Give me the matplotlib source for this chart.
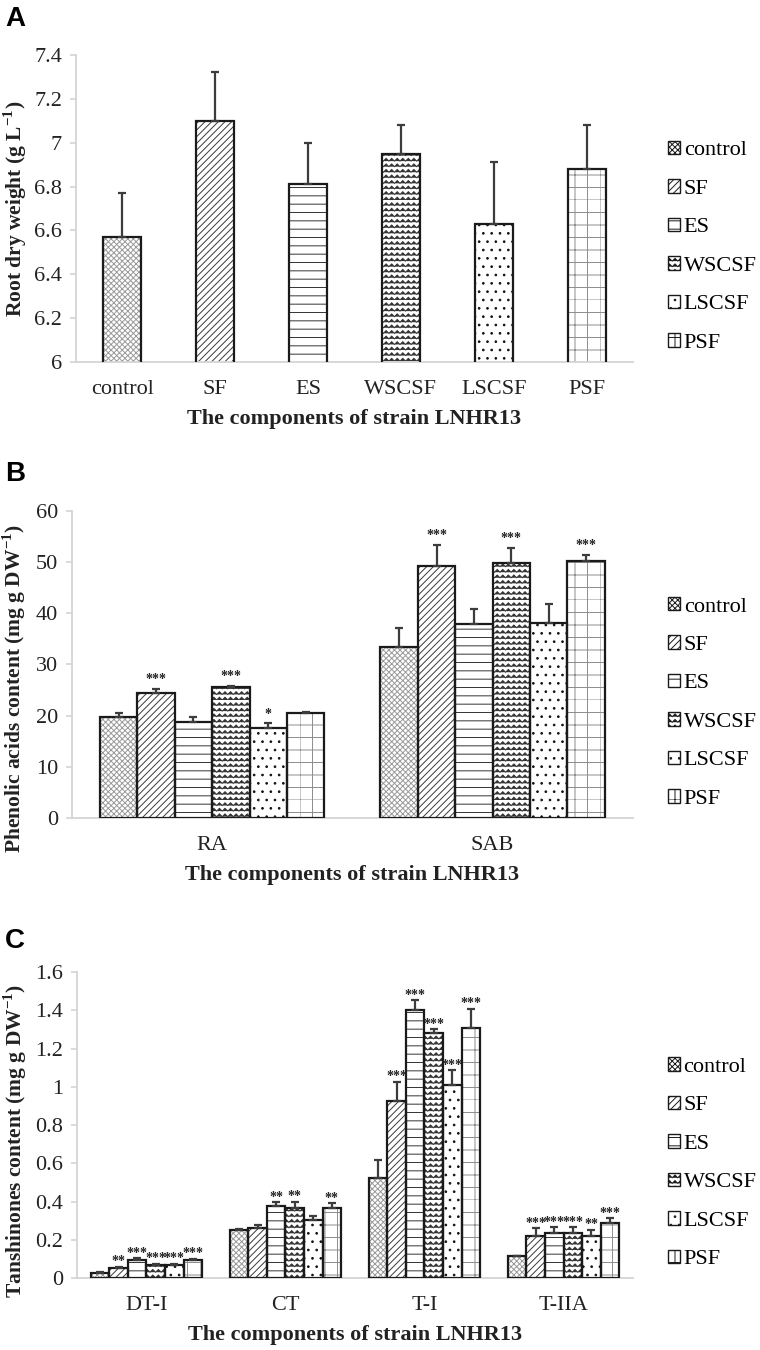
import warnings
import numpy as np
import matplotlib
matplotlib.use("Agg")
import matplotlib.pyplot as plt
from matplotlib import hatch as mhatch
from matplotlib.patches import Patch
from matplotlib.path import Path

warnings.filterwarnings("ignore")

# ===========================
# DATA
# ===========================
treatments = ["control", "SF", "ES", "WSCSF", "LSCSF", "PSF"]

# A - root dry weight (g L-1)
root_weight = [6.57, 7.10, 6.81, 6.95, 6.63, 6.88]
root_err = [0.20, 0.22, 0.19, 0.13, 0.28, 0.20]

# B - phenolic acids (mg g DW-1)
phenolic_groups = ["RA", "SAB"]
ra_content = [19.8, 24.4, 18.7, 25.6, 17.5, 20.6]
ra_err = [0.7, 0.8, 1.1, 0.2, 1.0, 0.1]
ra_sig = ["", "***", "", "***", "*", ""]
sab_content = [33.5, 49.3, 37.9, 49.9, 38.2, 50.2]
sab_err = [3.6, 4.0, 3.0, 2.9, 3.6, 1.2]
sab_sig = ["", "***", "", "***", "", "***"]

# C - tanshinones (mg g DW-1)
tanshinone_groups = ["DT-I", "CT", "T-I", "T-IIA"]
dti_content = [0.025, 0.052, 0.096, 0.070, 0.070, 0.096]
dti_err = [0.004, 0.006, 0.008, 0.006, 0.006, 0.006]
dti_sig = ["", "**", "***", "***", "***", "***"]
ct_content = [0.252, 0.264, 0.377, 0.365, 0.304, 0.365]
ct_err = [0.006, 0.015, 0.018, 0.035, 0.021, 0.025]
ct_sig = ["", "", "**", "**", "", "**"]
ti_content = [0.522, 0.927, 1.400, 1.282, 1.009, 1.308]
ti_err = [0.095, 0.100, 0.052, 0.018, 0.078, 0.100]
ti_sig = ["", "***", "***", "***", "***", "***"]
tiia_content = [0.113, 0.221, 0.238, 0.238, 0.221, 0.287]
tiia_err = [0.004, 0.039, 0.028, 0.028, 0.031, 0.026]
tiia_sig = ["", "***", "***", "***", "**", "***"]


# ===========================
# EXTRA HATCHES (Excel "zig zag" and wide grid patterns)
# ===========================
class ZigZagHatch(mhatch.HatchPatternBase):
    def __init__(self, hatch, density):
        self.num_lines = int(hatch.count("z") * density)
        self.num_teeth = self.num_lines
        self.num_vertices = self.num_lines * (2 * self.num_teeth + 1)

    def set_vertices_and_codes(self, vertices, codes):
        k = 2 * self.num_teeth + 1
        xs = np.linspace(0, 1, k)
        amp = 0.5 / self.num_lines
        offs = np.tile([0.0, amp], self.num_teeth + 1)[:k]
        for i in range(self.num_lines):
            y0 = i / self.num_lines
            vertices[i * k:(i + 1) * k, 0] = xs
            vertices[i * k:(i + 1) * k, 1] = y0 + offs
            codes[i * k] = Path.MOVETO
            codes[i * k + 1:(i + 1) * k] = Path.LINETO


class GridHatch(mhatch.HatchPatternBase):
    def __init__(self, hatch, density):
        self.num_lines = int(hatch.count("g") * density * 4 / 3)
        self.num_vertices = self.num_lines * 4

    def set_vertices_and_codes(self, vertices, codes):
        steps = np.linspace(0, 1, self.num_lines, endpoint=False)
        n = self.num_lines
        vertices[0:2 * n:2, 0] = 0.0
        vertices[1:2 * n:2, 0] = 1.0
        vertices[0:2 * n:2, 1] = steps
        vertices[1:2 * n:2, 1] = steps
        vertices[2 * n::2, 0] = steps
        vertices[2 * n + 1::2, 0] = steps
        vertices[2 * n::2, 1] = 0.0
        vertices[2 * n + 1::2, 1] = 1.0
        codes[0::2] = Path.MOVETO
        codes[1::2] = Path.LINETO


mhatch._hatch_types.append(ZigZagHatch)
mhatch._hatch_types.append(GridHatch)

plt.rcParams["font.family"] = ["Liberation Serif", "DejaVu Serif"]
plt.rcParams["mathtext.fontset"] = "custom"
plt.rcParams["mathtext.rm"] = "Liberation Serif"
plt.rcParams["mathtext.bf"] = "Liberation Serif:bold"
plt.rcParams["hatch.linewidth"] = 0.7

# hatch pattern and hatch colour per treatment
bar_styles = [("xxxxxx", "#9a9a9a"), ("/////", "#3a3a3a"), ("--", "#333333"),
              ("zzz", "#333333"), ("..", "#111111"), ("g", "#8c8c8c")]
AXIS_GRAY = "#d4d4d4"


def draw_bars(ax, x, heights, errs, width):
    for i, (hatch, hcol) in enumerate(bar_styles):
        ax.bar(x[i], heights[i], width, color="white", edgecolor=hcol,
               hatch=hatch, linewidth=0, zorder=2)
        ax.bar(x[i], heights[i], width, fill=False, edgecolor="#1a1a1a",
               linewidth=1.6, zorder=3)
    ax.errorbar(x, heights, yerr=[np.zeros(len(errs)), errs], fmt="none",
                ecolor="#3c3c3c", elinewidth=1.6, capsize=3.2, capthick=1.6,
                zorder=4)


def add_stars(ax, x, heights, errs, sigs, offset):
    for xi, h, e, s in zip(x, heights, errs, sigs):
        if s:
            ax.annotate(s, (xi, h + e), xytext=(0, offset), textcoords="offset points",
                        ha="center", va="bottom", fontsize=10, fontweight="bold",
                        color="#222222", zorder=5)


def style_axes(ax, ylim, yticks, ylabel, ylab_pos):
    ax.set_ylim(*ylim)
    ax.set_yticks(yticks)
    ax.set_yticklabels([f"{t:g}" for t in yticks])
    for side in ["top", "right"]:
        ax.spines[side].set_visible(False)
    for side in ["left", "bottom"]:
        ax.spines[side].set_color(AXIS_GRAY)
        ax.spines[side].set_linewidth(1.3)
    ax.tick_params(axis="y", colors=AXIS_GRAY, length=4, width=1.2, pad=6,
                   labelcolor="#222222", labelsize=16)
    ax.tick_params(axis="x", length=0, pad=13, labelcolor="#222222", labelsize=16)
    ax.set_ylabel(ylabel, fontsize=15.5, fontweight="bold", color="#222222")
    ax.yaxis.set_label_coords(*ylab_pos)
    ax.set_xlabel("The components of strain LNHR13", fontsize=16,
                  fontweight="bold", color="#222222")
    ax.xaxis.label.set_va("center")
    ax.xaxis.set_label_coords(0.5, -0.186)
    handles = [Patch(facecolor="white", edgecolor="#1a1a1a", hatch=h, linewidth=1.0)
               for h, _ in bar_styles]
    ax.legend(handles, treatments, loc="center left", bbox_to_anchor=(1.063, 0.375),
              frameon=False, fontsize=16, handlelength=0.55, handleheight=0.55,
              handletextpad=0.15, labelspacing=0.85, borderpad=0, borderaxespad=0)


fig = plt.figure(figsize=(7.6, 13.5), dpi=100)

# ---------- A ----------
axA = fig.add_axes([0.100, 0.7319, 0.733, 0.2274])
xA = np.arange(len(treatments))
draw_bars(axA, xA, root_weight, root_err, 0.41)
axA.set_xlim(-0.5, len(treatments) - 0.5)
axA.set_xticks(xA)
axA.set_xticklabels(treatments)
style_axes(axA, (6, 7.4), np.round(np.arange(6, 7.41, 0.2), 1),
           r"Root dry weight (g L$^{\mathbf{-1}}$)", (-0.085, 0.50))

# ---------- B ----------
axB = fig.add_axes([0.0947, 0.3941, 0.738, 0.2274])
w = 0.8 / len(treatments)
offsets = (np.arange(len(treatments)) - 2.5) * w
for g, (vals, errs, sigs) in enumerate([(ra_content, ra_err, ra_sig),
                                         (sab_content, sab_err, sab_sig)]):
    draw_bars(axB, g + offsets, vals, errs, w)
    add_stars(axB, g + offsets, vals, errs, sigs, 2)
axB.set_xlim(-0.5, len(phenolic_groups) - 0.5)
axB.set_xticks(np.arange(len(phenolic_groups)))
axB.set_xticklabels(phenolic_groups)
style_axes(axB, (0, 60), np.arange(0, 61, 10),
           r"Phenolic acids content (mg g DW$^{\mathbf{-1}}$)", (-0.078, 0.423))

# ---------- C ----------
axC = fig.add_axes([0.1013, 0.0533, 0.7316, 0.2267])
tans = [(dti_content, dti_err, dti_sig), (ct_content, ct_err, ct_sig),
        (ti_content, ti_err, ti_sig), (tiia_content, tiia_err, tiia_sig)]
for g, (vals, errs, sigs) in enumerate(tans):
    draw_bars(axC, g + offsets, vals, errs, w)
    add_stars(axC, g + offsets, vals, errs, sigs, -1)
axC.set_xlim(-0.5, len(tanshinone_groups) - 0.5)
axC.set_xticks(np.arange(len(tanshinone_groups)))
axC.set_xticklabels(tanshinone_groups)
style_axes(axC, (0, 1.6), np.round(np.arange(0, 1.61, 0.2), 1),
           r"Tanshinones content (mg g DW$^{\mathbf{-1}}$)", (-0.087, 0.448))

# panel letters
for letter, ypx in [("A", 6), ("B", 461), ("C", 928)]:
    fig.text(5 / 760, 1 - ypx / 1350, letter, family="Liberation Sans",
             fontsize=20, fontweight="bold", va="top", ha="left")

fig.savefig("out.png", dpi=100)
